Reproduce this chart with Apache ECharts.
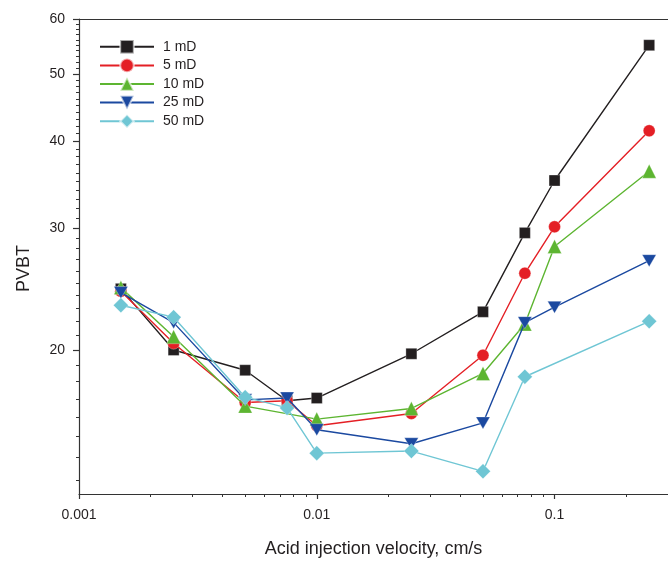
<!DOCTYPE html>
<html>
<head>
<meta charset="utf-8">
<script src="https://cdn.jsdelivr.net/npm/echarts@6/dist/echarts.min.js"></script>
<style>
html,body{margin:0;padding:0;background:#fff;}
#chart{width:668px;height:563px;}
</style>
</head>
<body>
<div id="chart"></div>
<script>
// ---- data ----
const velocities = [0.0015, 0.0025, 0.005, 0.0075, 0.01, 0.025, 0.05, 0.075, 0.1, 0.25];
const seriesNames = ['1 mD', '5 mD', '10 mD', '25 mD', '50 mD'];
const pvbt1mD  = [24.5, 20.0, 18.7, 16.9, 17.05, 19.75, 22.7, 29.5, 35.1, 55.0];
const pvbt5mD  = [24.3, 20.45, 16.8, 16.9, 15.55, 16.2, 19.65, 25.8, 30.1, 41.4];
const pvbt10mD = [24.6, 20.9, 16.6, null, 15.9, 16.47, 18.5, 21.8, 28.2, 36.2];
const pvbt25mD = [24.2, 21.9, 16.95, 17.05, 15.35, 14.65, 15.7, 21.9, 23.05, 26.9];
const pvbt50mD = [23.2, 22.3, 17.1, 16.5, 14.2, 14.3, 13.37, 18.3, null, 22.0];
const xMajorTicks = [0.001, 0.01, 0.1];
const xTickLabels = ['0.001', '0.01', '0.1'];
const xMinorTicks = [0.002,0.003,0.004,0.005,0.006,0.007,0.008,0.009,
                     0.02,0.03,0.04,0.05,0.06,0.07,0.08,0.09,0.2];
const yMajorTicks = [20, 30, 40, 50, 60];
const yMinorTicks = [13,14,15,16,17,18,19,21,22,23,24,25,26,27,28,29,
                     31,32,33,34,35,36,37,38,39,41,42,43,44,45,46,47,48,49,
                     51,52,53,54,55,56,57,58,59];

// ---- styles ----
const colors = ['#231f20', '#e41f25', '#5db531', '#1b49a0', '#6fc6d4'];
const symbols = ['rect', 'circle', 'triangle', 'path://M0,0 L10,0 L5,10 Z', 'diamond'];
const symbolSizes = [11, 12, 14, [14, 12], 15];
const allValues = [pvbt1mD, pvbt5mD, pvbt10mD, pvbt25mD, pvbt50mD];
const FONT = '"Liberation Sans", Arial, sans-serif';
const X_MIN = 0.001, X_MAX = 0.3, Y_MIN = 12.4, Y_MAX = 60;
const axisColor = '#333';

function pairs(vals) {
  const out = [];
  velocities.forEach((v, i) => { if (vals[i] != null) out.push([v, vals[i]]); });
  return out;
}

const chart = echarts.init(document.getElementById('chart'), null, {renderer: 'canvas'});

const series = seriesNames.map((name, i) => ({
  name: name,
  type: 'line',
  xAxisIndex: 0,
  yAxisIndex: 0,
  data: pairs(allValues[i]),
  symbol: symbols[i],
  symbolSize: symbolSizes[i],
  showAllSymbol: true,
  lineStyle: {color: colors[i], width: 1.4},
  itemStyle: {color: colors[i], borderColor: 'rgba(255,255,255,0.6)', borderWidth: 0.5},
  emphasis: {disabled: true},
  animation: false,
  z: 2 + i
}));

const option = {
  animation: false,
  backgroundColor: '#fff',
  textStyle: {fontFamily: FONT},
  grid: {left: 79, right: 0, top: 19, bottom: 67, containLabel: false},
  legend: {
    data: seriesNames,
    orient: 'vertical',
    left: 99,
    top: 39,
    padding: 0,
    itemWidth: 54,
    itemHeight: 17,
    itemGap: 3,
    textStyle: {fontFamily: FONT, fontSize: 14, color: '#231f20', padding: [0, 0, 0, 4]},
    selectedMode: false
  },
  xAxis: [
    {
      type: 'log', logBase: 10, min: X_MIN, max: X_MAX, position: 'bottom',
      name: 'Acid injection velocity, cm/s', nameLocation: 'middle', nameGap: 46,
      nameTextStyle: {fontFamily: FONT, fontSize: 18, color: '#231f20'},
      axisLine: {show: true, lineStyle: {color: axisColor, width: 1.2}},
      axisTick: {show: true, inside: false, length: 5, customValues: xMajorTicks, lineStyle: {color: axisColor, width: 1.2}},
      axisLabel: {show: true, margin: 14, customValues: xMajorTicks, fontFamily: FONT, fontSize: 14, color: '#231f20',
        formatter: v => { const k = xMajorTicks.findIndex(t => Math.abs(t - v) / t < 1e-6); return k >= 0 ? xTickLabels[k] : ''; }},
      splitLine: {show: false}
    },
    {
      type: 'log', logBase: 10, min: X_MIN, max: X_MAX, position: 'bottom',
      axisLine: {show: false},
      axisTick: {show: true, inside: false, length: 3, customValues: xMinorTicks, lineStyle: {color: axisColor, width: 1}},
      axisLabel: {show: false},
      splitLine: {show: false}
    },
    {
      type: 'log', logBase: 10, min: X_MIN, max: X_MAX, position: 'top',
      axisLine: {show: true, lineStyle: {color: axisColor, width: 1.2}},
      axisTick: {show: false},
      axisLabel: {show: false},
      splitLine: {show: false}
    }
  ],
  yAxis: [
    {
      type: 'log', logBase: 10, min: Y_MIN, max: Y_MAX, position: 'left',
      name: 'PVBT', nameLocation: 'middle', nameGap: 46, nameRotate: 90,
      nameTextStyle: {fontFamily: FONT, fontSize: 18, color: '#231f20', padding: [0, 0, 0, -24]},
      axisLine: {show: true, lineStyle: {color: axisColor, width: 1.2}},
      axisTick: {show: true, inside: false, length: 6, customValues: yMajorTicks, lineStyle: {color: axisColor, width: 1.2}},
      axisLabel: {show: true, margin: 14, customValues: yMajorTicks, fontFamily: FONT, fontSize: 14, color: '#231f20',
        formatter: v => String(Math.round(v))},
      splitLine: {show: false}
    },
    {
      type: 'log', logBase: 10, min: Y_MIN, max: Y_MAX, position: 'left',
      axisLine: {show: false},
      axisTick: {show: true, inside: false, length: 3, customValues: yMinorTicks, lineStyle: {color: axisColor, width: 1}},
      axisLabel: {show: false},
      splitLine: {show: false}
    }
  ],
  series: series
};

chart.setOption(option);
</script>
</body>
</html>
